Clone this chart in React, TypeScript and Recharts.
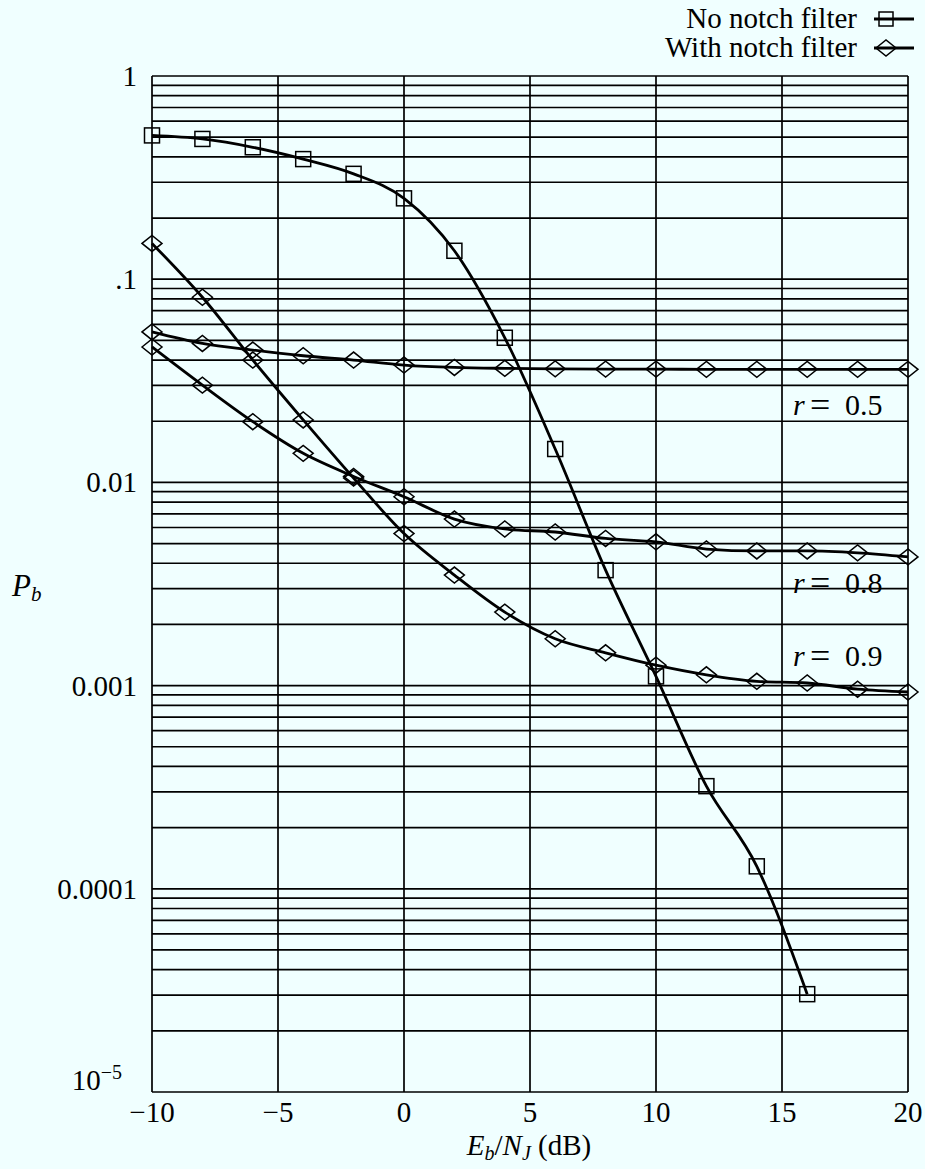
import { LineChart, Line, XAxis, YAxis, CartesianGrid } from "recharts";

// Eb/NJ (dB) sample points
const X_VALUES = [-10, -8, -6, -4, -2, 0, 2, 4, 6, 8, 10, 12, 14, 16, 18, 20];

// Pb, no notch filter (stops at 16 dB)
const NO_NOTCH = [0.51, 0.49, 0.446, 0.39, 0.33, 0.25, 0.138, 0.0515, 0.0146, 0.0037, 0.00111, 0.00032, 0.000129, 0.0000303];

// Pb, with notch filter
const R05 = [0.055, 0.0483, 0.0448, 0.042, 0.04, 0.0378, 0.0368, 0.0364, 0.0362, 0.0361, 0.0361, 0.036, 0.036, 0.036, 0.036, 0.036];
const R08 = [0.0464, 0.0301, 0.0199, 0.0139, 0.0107, 0.0085, 0.0066, 0.0059, 0.0057, 0.0053, 0.0051, 0.0047, 0.0046, 0.0046, 0.0045, 0.0043];
const R09 = [0.15, 0.0815, 0.04, 0.0203, 0.0105, 0.0056, 0.0035, 0.0023, 0.0017, 0.00145, 0.00126, 0.00113, 0.00105, 0.00103, 0.00096, 0.00093];

const X_TICKS = [-10, -5, 0, 5, 10, 15, 20];
const X_TICK_LABELS = ["\u221210", "\u22125", "0", "5", "10", "15", "20"];
const DECADES = [1e-5, 1e-4, 1e-3, 1e-2, 1e-1, 1];
const Y_TICK_LABELS = ["10", "0.0001", "0.001", "0.01", ".1", "1"];
const MANTISSAS = [1, 2, 3, 4, 5, 6, 7, 8, 9];

const BG = "#f0ffff";
const FONT = "'Liberation Serif', 'Times New Roman', serif";

// log grid: 1..9 x 10^k
const GRID_Y: number[] = [];
DECADES.forEach((d, i) => {
  if (i === DECADES.length - 1) {
    GRID_Y.push(d);
    return;
  }
  MANTISSAS.forEach((m) => GRID_Y.push(+(m * d).toPrecision(3)));
});

const rows = X_VALUES.map((x, i) => ({
  x,
  noNotch: NO_NOTCH[i],
  r05: R05[i],
  r08: R08[i],
  r09: R09[i],
}));

function YTick(props: any) {
  const { x, y, payload } = props;
  const idx = DECADES.findIndex((d) => Math.abs(d - payload.value) < d * 1e-6);
  if (idx < 0) return <g />;
  if (idx === 0) {
    return (
      <text x={x - 28} y={y - 2} textAnchor="end" fontSize={29} fontFamily={FONT} fill="#000">
        {Y_TICK_LABELS[idx]}
        <tspan dy={-11} fontSize={20}>{"\u22125"}</tspan>
      </text>
    );
  }
  return (
    <text x={x - 13} y={y + 10} textAnchor="end" fontSize={29} fontFamily={FONT} fill="#000">
      {Y_TICK_LABELS[idx]}
    </text>
  );
}

function XTick(props: any) {
  const { x, y, payload } = props;
  const i = X_TICKS.indexOf(payload.value);
  return (
    <text x={x} y={y + 28} textAnchor="middle" fontSize={29} fontFamily={FONT} fill="#000">
      {X_TICK_LABELS[i]}
    </text>
  );
}

function Square(props: any) {
  const { cx, cy } = props;
  if (cx == null || cy == null || props.value == null) return <g />;
  return <rect x={cx - 7.5} y={cy - 7.5} width={15} height={15} fill="none" stroke="#000" strokeWidth={1.5} />;
}

function Diamond(props: any) {
  const { cx, cy } = props;
  if (cx == null || cy == null) return <g />;
  return (
    <path
      d={`M${cx - 10},${cy} L${cx},${cy - 8} L${cx + 10},${cy} L${cx},${cy + 8} Z`}
      fill="none"
      stroke="#000"
      strokeWidth={1.5}
    />
  );
}

export default function App() {
  return (
    <div style={{ position: "absolute", left: 0, top: 0, width: 925, height: 1169, background: BG, overflow: "hidden" }}>
      <LineChart width={925} height={1169} data={rows} margin={{ top: 76, right: 17, bottom: 0, left: 0 }}>
        <CartesianGrid stroke="#000" strokeWidth={1.7} />
        <XAxis
          type="number"
          dataKey="x"
          domain={[-10, 20]}
          ticks={X_TICKS}
          interval={0}
          tick={(p: any) => <XTick {...p} />}
          tickLine={false}
          axisLine={false}
          tickSize={0}
          height={77}
        />
        <YAxis
          type="number"
          scale="log"
          domain={[1e-5, 1]}
          allowDataOverflow
          ticks={GRID_Y}
          interval={0}
          tick={(p: any) => <YTick {...p} />}
          tickLine={false}
          axisLine={false}
          tickSize={0}
          width={152}
        />
        <Line dataKey="noNotch" type="monotone" stroke="#000" strokeWidth={2.8} dot={(p: any) => <Square key={p.index} {...p} />} isAnimationActive={false} />
        <Line dataKey="r05" type="monotone" stroke="#000" strokeWidth={2.8} dot={(p: any) => <Diamond key={p.index} {...p} />} isAnimationActive={false} />
        <Line dataKey="r08" type="monotone" stroke="#000" strokeWidth={2.8} dot={(p: any) => <Diamond key={p.index} {...p} />} isAnimationActive={false} />
        <Line dataKey="r09" type="monotone" stroke="#000" strokeWidth={2.8} dot={(p: any) => <Diamond key={p.index} {...p} />} isAnimationActive={false} />
      </LineChart>

      <svg width={925} height={1169} style={{ position: "absolute", left: 0, top: 0, pointerEvents: "none" }} fontFamily={FONT}>
        {/* legend */}
        <text x={857} y={28} textAnchor="end" fontSize={29} fill="#000">No notch filter</text>
        <line x1={874} y1={19} x2={914} y2={19} stroke="#000" strokeWidth={2.8} />
        <rect x={879} y={12} width={14} height={14} fill="none" stroke="#000" strokeWidth={1.5} />
        <text x={857} y={57} textAnchor="end" fontSize={29} fill="#000">With notch filter</text>
        <line x1={874} y1={48} x2={914} y2={48} stroke="#000" strokeWidth={2.8} />
        <path d="M876,48 L886,40 L896,48 L886,56 Z" fill="none" stroke="#000" strokeWidth={1.5} />

        {/* axis titles */}
        <text x={12} y={596} fontSize={31} fill="#000">
          <tspan fontStyle="italic">P</tspan>
          <tspan fontStyle="italic" fontSize={21} dy={5}>b</tspan>
        </text>
        <text x={529} y={1155} textAnchor="middle" fontSize={29} fill="#000">
          <tspan fontStyle="italic">E</tspan>
          <tspan fontStyle="italic" fontSize={20} dy={5}>b</tspan>
          <tspan dy={-5}>/</tspan>
          <tspan fontStyle="italic">N</tspan>
          <tspan fontStyle="italic" fontSize={20} dy={5}>J</tspan>
          <tspan dy={-5}> (dB)</tspan>
        </text>

        {/* curve labels */}
        {[
          { y: 415, v: "0.5" },
          { y: 593, v: "0.8" },
          { y: 666, v: "0.9" },
        ].map((l) => (
          <text key={l.v} y={l.y} fontSize={30} fill="#000">
            <tspan x={793} fontStyle="italic">r</tspan>
            <tspan x={810} fontSize={36} dy={2}>=</tspan>
            <tspan x={845} dy={-2}>{l.v}</tspan>
          </text>
        ))}
      </svg>
    </div>
  );
}
